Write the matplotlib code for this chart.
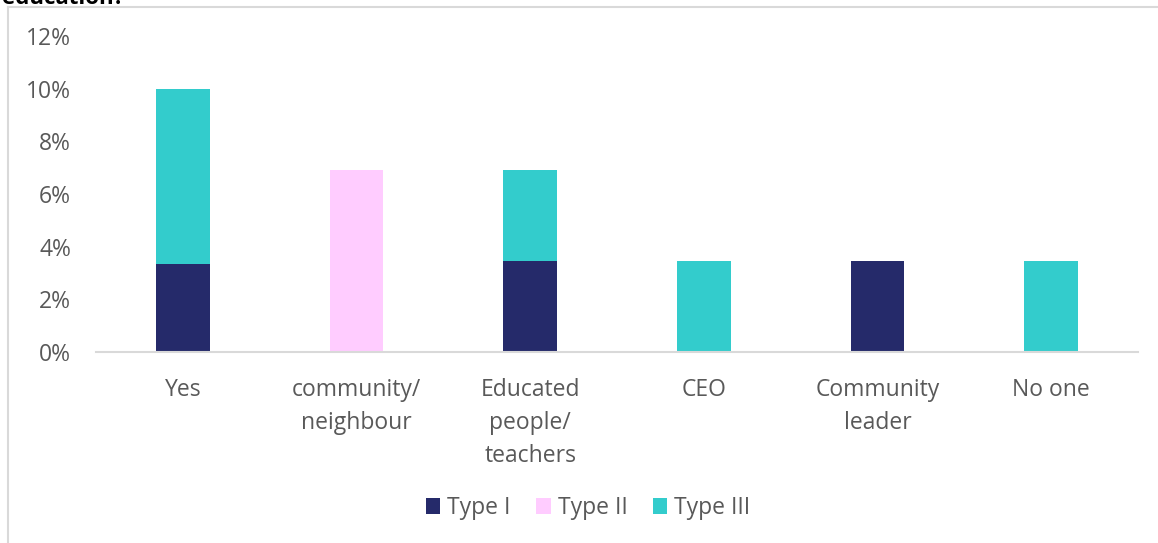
import matplotlib.pyplot as plt
from matplotlib.lines import Line2D
from matplotlib.ticker import FuncFormatter

plt.rcParams['font.family'] = ['Open Sans', 'DejaVu Sans']

categories = ["Yes", "community/\nneighbour", "Educated\npeople/\nteachers",
              "CEO", "Community\nleader", "No one"]
type_1 = [3.33, 0, 3.45, 0, 3.45, 0]
type_2 = [0, 6.9, 0, 0, 0, 0]
type_3 = [6.67, 0, 3.45, 3.45, 0, 3.45]

colors = ["#252A6A", "#FFCCFF", "#33CCCC"]
grey = "#595959"

W, H = 1158, 543
fig = plt.figure(figsize=(W / 100, H / 100), dpi=100)
ax = fig.add_axes([96 / W, 1 - 352 / H, (1138 - 96) / W, (352 - 36) / H])

x = range(len(categories))
bar_w = 0.31
ax.bar(x, type_1, bar_w, color=colors[0], label="Type I")
ax.bar(x, type_2, bar_w, bottom=type_1, color=colors[1], label="Type II")
bottom3 = [a + b for a, b in zip(type_1, type_2)]
ax.bar(x, type_3, bar_w, bottom=bottom3, color=colors[2], label="Type III")

ax.set_xlim(-0.5, len(categories) - 0.5)
ax.set_ylim(0, 12)
ax.set_yticks(range(0, 13, 2))
ax.yaxis.set_major_formatter(FuncFormatter(lambda v, _: f"{v:.0f}%"))
ax.set_xticks(list(x))
ax.set_xticklabels(categories, linespacing=1.5)

for side in ["top", "right", "left"]:
    ax.spines[side].set_visible(False)
ax.spines["bottom"].set_color("#D9D9D9")
ax.spines["bottom"].set_linewidth(1.5)
ax.tick_params(axis="both", length=0, labelsize=16.5, labelcolor=grey)
ax.tick_params(axis="y", pad=18)
ax.tick_params(axis="x", pad=19)

ax.legend(loc="center", bbox_to_anchor=(588 / W, 1 - 508 / H), bbox_transform=fig.transFigure,
          ncol=3, frameon=False, fontsize=16.5, labelcolor=grey,
          handlelength=0.65, handleheight=0.65, handletextpad=0.3, columnspacing=1.1)

# chart frame (left and top edge) and clipped title line above it
fig.add_artist(Line2D([8 / W, 8 / W], [0, 1 - 7 / H], color="#D9D9D9", lw=1.5))
fig.add_artist(Line2D([8 / W, 1], [1 - 7 / H, 1 - 7 / H], color="#D9D9D9", lw=1.5))
fig.text(2 / W, 1 - 4 / H, "education?", fontsize=16, fontweight="bold",
         color="black", va="baseline", ha="left")

fig.savefig("out.png", dpi=100, facecolor="white")
